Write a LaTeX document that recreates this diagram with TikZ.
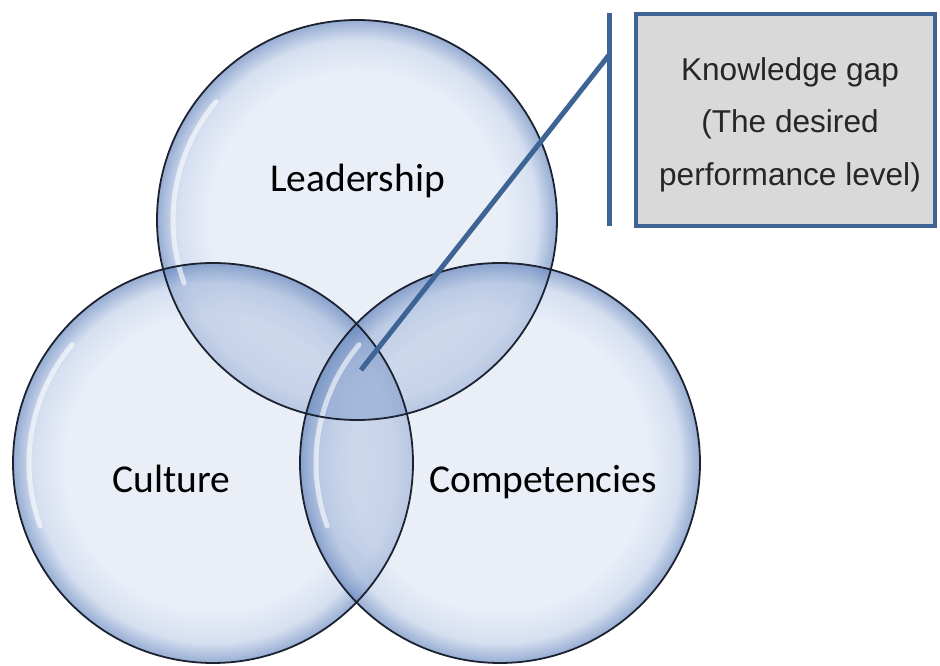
\documentclass[tikz,border=0pt]{standalone}
\usepackage{fontspec}
\setmainfont{Carlito}
\newfontfamily\gapfont{Liberation Sans}
\usetikzlibrary{positioning}

\definecolor{bubblein}{HTML}{E0E7F4}
\definecolor{bubblemid}{HTML}{C4D2EA}
\definecolor{bubbleedge}{HTML}{6A8AC0}
\definecolor{rimcolor}{HTML}{1C2230}
\definecolor{gapline}{HTML}{3E6496}
\definecolor{gapfill}{HTML}{D9D9D9}
\definecolor{gaptext}{HTML}{262626}

\pgfdeclareradialshading{bubble}{\pgfpoint{0bp}{0bp}}{%
  color(0bp)=(bubblein); color(18.5bp)=(bubblein); color(22.5bp)=(bubblemid);
  color(25bp)=(bubbleedge); color(50bp)=(bubbleedge)}

\tikzset{bubblefill/.style={shade, shading=bubble, opacity=0.7},
  overlap/.style={fill=bubbleedge, fill opacity=0.18},
  shine/.style={white, line width=5pt, line cap=round, opacity=0.6},
  rim/.style={draw=rimcolor, line width=1.8pt},
  tag/.style={font=\fontsize{39.5}{47}\selectfont, anchor=base, inner sep=0pt},
  gapbox/.style={draw=gapline, line width=4pt, fill=gapfill,
    minimum width=299pt, minimum height=212pt, inner sep=0pt},
  gaptag/.style={font=\gapfont\fontsize{31.6}{52.5}\selectfont, text=gaptext,
    align=center, inner sep=0pt},
  callout/.style={gapline, line width=5pt}}

\begin{document}
\begin{tikzpicture}[x=1pt,y=1pt]

\useasboundingbox (0,0) rectangle (940,666);

% centres of the bubbles
\coordinate (lead) at (357,446);
\coordinate (cult) at (213,203);
\coordinate (comp) at (500,203);

% bubbles
\shade[bubblefill] (lead) circle (200pt);
\shade[bubblefill] (cult) circle (200pt);
\shade[bubblefill] (comp) circle (200pt);

% darker overlaps
\begin{scope}
  \clip (lead) circle (200pt);
  \fill[overlap] (cult) circle (200pt);
  \fill[overlap] (comp) circle (200pt);
\end{scope}
\begin{scope}
  \clip (cult) circle (200pt);
  \fill[overlap] (comp) circle (200pt);
\end{scope}

% highlights
\draw[shine] (lead) ++(140:184pt) arc[start angle=140, end angle=200, radius=184pt];
\draw[shine] (cult) ++(140:184pt) arc[start angle=140, end angle=200, radius=184pt];
\draw[shine] (comp) ++(140:184pt) arc[start angle=140, end angle=200, radius=184pt];

% outlines
\draw[rim] (lead) circle (200pt);
\draw[rim] (cult) circle (200pt);
\draw[rim] (comp) circle (200pt);

% labels
\node[tag] (leadtag) at (357.5,474) {Leadership};
\node[tag] (culttag) at (171.5,173) {Culture};
\node[tag] (comptag) at (543,173) {Competencies};

% callout
\coordinate (bartop) at (609,653);
\coordinate (barbot) at (609,440);
\coordinate (bend) at (609,611);
\coordinate (core) at (361,296);
\draw[callout] (bartop) -- (barbot);
\draw[callout] (bend) -- (core);

\node[gapbox] (gap) at (785.5,546) {};
\node[gaptag] (gaplbl) at (790,541.5) {Knowledge gap\\(The desired\\performance level)};

\end{tikzpicture}
\end{document}
